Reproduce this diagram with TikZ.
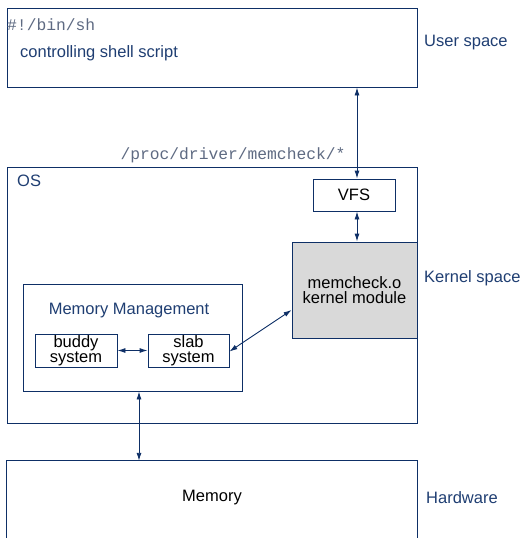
\documentclass[tikz,border=0pt]{standalone}
\usepackage{fontspec}
\setmainfont{Liberation Sans}
\setmonofont{Liberation Mono}
\usetikzlibrary{arrows.meta}
\definecolor{navy}{HTML}{0E2F66}
\definecolor{labelblue}{HTML}{1F3E72}
\definecolor{pathgray}{HTML}{5E6A82}
\definecolor{modfill}{HTML}{D9D9D9}
\tikzset{
  box/.style={draw=navy, line width=0.9pt, inner sep=0pt, font=\fontsize{16.5}{15.5}\selectfont, align=center},
  lbl/.style={inner sep=0pt, text=labelblue, font=\fontsize{16.5}{15.5}\selectfont},
  code/.style={inner sep=0pt, text=pathgray, font=\fontsize{16.3}{16}\ttfamily},
  link/.style={draw=navy, line width=0.9pt, {Latex[length=8pt,width=5pt]}-{Latex[length=8pt,width=5pt]}}
}
\begin{document}
\begin{tikzpicture}[x=1pt,y=-1pt]
\useasboundingbox (0,0) rectangle (530,538);
\clip (0,0) rectangle (530,538);

% user space
\node[box, minimum width=410, minimum height=79] (user) at (212,47.5) {};
\node[code, anchor=west] (shebang) at (7,25) {\#!/bin/sh};
\node[lbl, anchor=west] (script) at (20,53) {controlling shell script};
\node[lbl, anchor=west] (userlbl) at (424,43) {User space};

% kernel space
\node[code] (procpath) at (233,155) {/proc/driver/memcheck/*};
\node[box, minimum width=410, minimum height=256] (os) at (212,295) {};
\node[lbl, anchor=west] (oslbl) at (17,181) {OS};
\node[lbl, anchor=west] (kernlbl) at (424,278) {Kernel space};

\node[box, minimum width=82, minimum height=32] (vfs) at (354,195) {VFS};
\node[box, fill=modfill, minimum width=125, minimum height=96] (mc) at (354.5,290) {memcheck.o\\kernel module};

\node[box, minimum width=219, minimum height=107] (mm) at (132.5,337.5) {};
\node[lbl] (mmlbl) at (129,311) {Memory Management};
\node[box, minimum width=82, minimum height=33] (buddy) at (76,350.5) {buddy\\system};
\node[box, minimum width=81, minimum height=33] (slab) at (188.5,350.5) {slab\\system};

% hardware
\node[inner sep=0pt, minimum width=410, minimum height=74, font=\fontsize{16.5}{15.5}\selectfont] (mem) at (212,498) {Memory};
\draw[navy, line width=0.9pt] ([yshift=-20pt]mem.south west) -- (mem.north west) -- (mem.north east) -- ([yshift=-20pt]mem.south east);
\node[lbl, anchor=west] (hwlbl) at (426,498) {Hardware};

% connectors
\coordinate (vfsx) at ([xshift=3pt]vfs.north);
\draw[link] (user.south -| vfsx) -- (vfsx);
\draw[link] ([xshift=3pt]vfs.south) -- (mc.north -| vfsx);
\draw[link] (buddy.east) -- (slab.west);
\draw[link] ([yshift=-1pt]slab.east) -- ([yshift=-20pt]mc.west);
\coordinate (mmx) at ([xshift=6.5pt]mm.south);
\draw[link] (mmx) -- (mem.north -| mmx);
\end{tikzpicture}
\end{document}
